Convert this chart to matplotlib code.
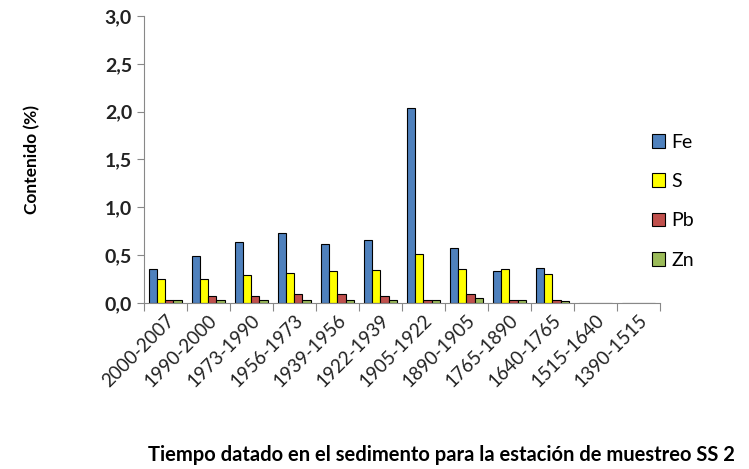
import numpy as np
import matplotlib.pyplot as plt

## Data
periods = ["2000-2007", "1990-2000", "1973-1990", "1956-1973", "1939-1956", "1922-1939",
           "1905-1922", "1890-1905", "1765-1890", "1640-1765", "1515-1640", "1390-1515"]
fe = [0.35, 0.49, 0.64, 0.73, 0.62, 0.66, 2.04, 0.57, 0.33, 0.37, 0.0, 0.0]
s = [0.25, 0.25, 0.29, 0.31, 0.33, 0.34, 0.51, 0.36, 0.35, 0.30, 0.0, 0.0]
pb = [0.03, 0.07, 0.07, 0.09, 0.09, 0.07, 0.03, 0.09, 0.03, 0.03, 0.0, 0.0]
zn = [0.03, 0.03, 0.03, 0.03, 0.03, 0.03, 0.03, 0.05, 0.03, 0.02, 0.0, 0.0]

series = [("Fe", fe, "#4F81BD"), ("S", s, "#FFFF00"),
          ("Pb", pb, "#C0504D"), ("Zn", zn, "#9BBB59")]

plt.rcParams['font.family'] = ['Lato', 'DejaVu Sans']

fig = plt.figure(figsize=(7.49, 4.69), dpi=100)
ax = fig.add_axes([0.192, 0.354, 0.689, 0.612])

x = np.arange(len(periods))
w = 0.19
for i, (name, vals, col) in enumerate(series):
    ax.bar(x + (i - 1.5) * w, vals, w, color=col, edgecolor="black",
           linewidth=0.8, label=name)

ax.set_xlim(-0.5, len(periods) - 0.5)
ax.set_ylim(0, 3.0)
ax.set_yticks(np.arange(0, 3.01, 0.5))
ax.set_yticklabels([f"{v:.1f}".replace(".", ",") for v in np.arange(0, 3.01, 0.5)],
                   fontsize=14, fontweight="bold", color="#222222")
ax.set_xticks(np.arange(len(periods) + 1) - 0.5, minor=False)
ax.set_xticklabels([])
ax.set_xticks(x, minor=True)
ax.set_xticklabels(periods, minor=True, rotation=45, ha="right",
                   rotation_mode="anchor", fontsize=13.5, color="#222222")
ax.tick_params(axis="x", which="minor", length=0, pad=6)
ax.tick_params(axis="x", which="major", length=6, color="#888888")
ax.tick_params(axis="y", length=5, color="#888888")

for sp in ["top", "right"]:
    ax.spines[sp].set_visible(False)
for sp in ["left", "bottom"]:
    ax.spines[sp].set_color("#888888")

ax.set_ylabel("Contenido (%)", fontsize=12.5, fontweight="bold")
ax.yaxis.set_label_coords(-0.2, 0.5)
fig.text(0.589, 0.018, "Tiempo datado en el sedimento para la estación de muestreo SS 2",
         ha="center", fontsize=14.5, fontweight="bold")

ax.legend(loc="center left", bbox_to_anchor=(0.95, 0.355), frameon=False,
          fontsize=14, handlelength=0.7, handleheight=0.7, labelspacing=1.15,
          handletextpad=0.3)

fig.savefig("out.png", dpi=100)
